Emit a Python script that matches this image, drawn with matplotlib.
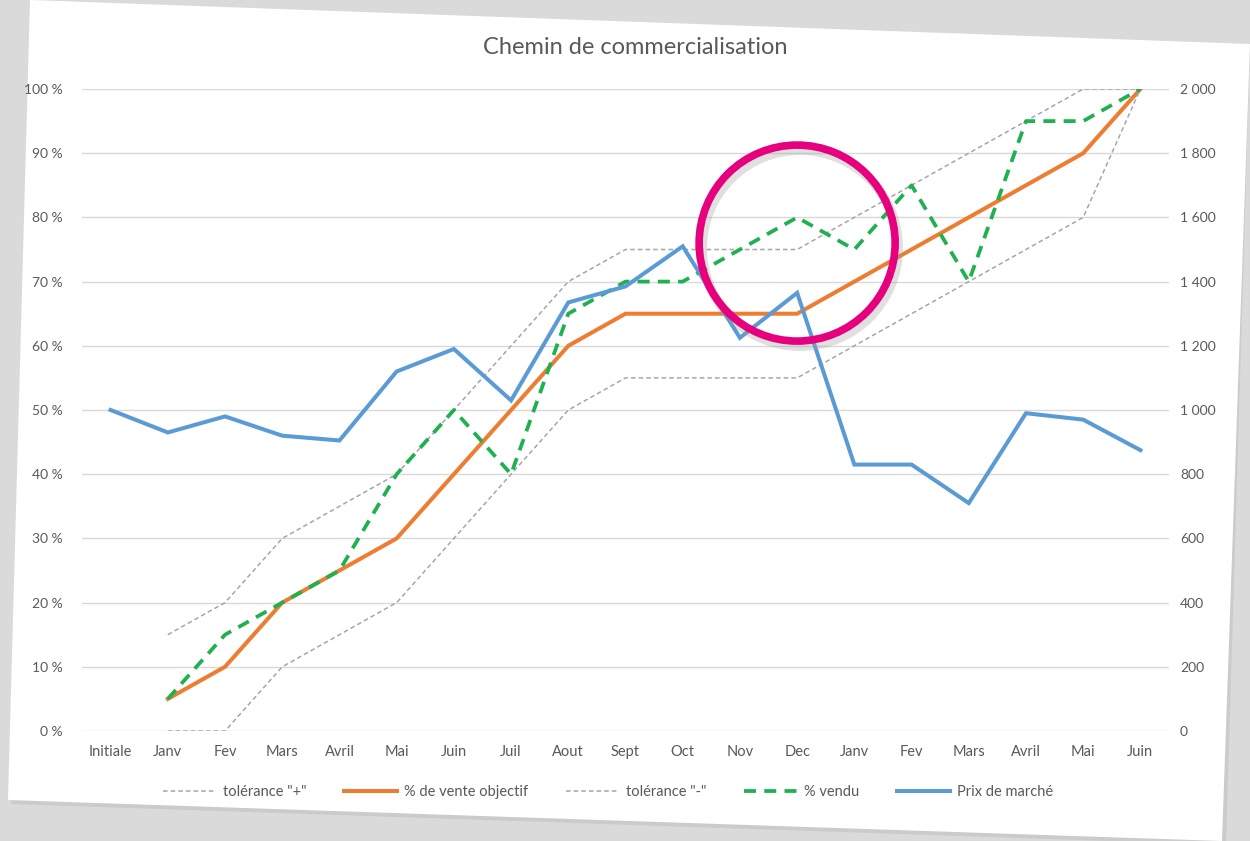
import numpy as np
import matplotlib
matplotlib.use("Agg")
import matplotlib.pyplot as plt
from matplotlib.patches import Polygon, Circle
from matplotlib.transforms import IdentityTransform
from matplotlib.ticker import FuncFormatter, MultipleLocator

plt.rcParams['font.family'] = ['Lato', 'DejaVu Sans']

# categories (x axis)
mois = ["Initiale", "Janv", "Fev", "Mars", "Avril", "Mai", "Juin", "Juil", "Aout",
        "Sept", "Oct", "Nov", "Dec", "Janv", "Fev", "Mars", "Avril", "Mai", "Juin"]

# left axis, in %
tol_plus = [np.nan, 15, 20, 30, 35, 40, 50, 60, 70, 75, 75, 75, 75, 80, 85, 90, 95, 100, 100]
objectif = [np.nan, 5, 10, 20, 25, 30, 40, 50, 60, 65, 65, 65, 65, 70, 75, 80, 85, 90, 100]
tol_moins = [np.nan, 0, 0, 10, 15, 20, 30, 40, 50, 55, 55, 55, 55, 60, 65, 70, 75, 80, 100]
vendu = [np.nan, 5, 15, 20, 25, 40, 50, 40, 65, 70, 70, 75, 80, 75, 85, 70, 95, 95, 100]

# right axis, market price
prix = [1000, 930, 980, 920, 905, 1120, 1190, 1030, 1335, 1385, 1510, 1225, 1365,
        830, 830, 710, 990, 970, 875]

W, H = 1250, 841
GRIS_TXT = '#595959'
GRILLE = '#d9d9d9'


def px(x, y):
    # pixel (from top-left) -> figure fraction
    return (x / W, 1 - y / H)


fig = plt.figure(figsize=(12.5, 8.41), dpi=100)
fig.patch.set_facecolor('#dadada')

# white sheet, slightly tilted like the photo
ombre = Polygon([px(33, 3), px(1250, 48), px(1226, 845), px(11, 804)],
                closed=True, transform=fig.transFigure, fc='#cbcbcb', ec='none', zorder=-3)
page = Polygon([px(30, 0), px(1250, 44), px(1222, 841), px(8, 800)],
               closed=True, transform=fig.transFigure, fc='white', ec='none', zorder=-2)
fig.add_artist(ombre)
fig.add_artist(page)

ax = fig.add_axes([82 / W, 110 / H, 1087 / W, 642 / H])
ax.set_facecolor('none')
x = np.arange(len(mois))

l1, = ax.plot(x, tol_plus, color='#a6a6a6', lw=1.1, ls=(0, (3, 2)))
l2, = ax.plot(x, objectif, color='#ed7d31', lw=2.9, solid_joinstyle='miter')
l3, = ax.plot(x, tol_moins, color='#a6a6a6', lw=1.1, ls=(0, (3, 2)))
l4, = ax.plot(x, vendu, color='#1fb04f', lw=2.7, ls=(0, (3.2, 2.2)))

ax.set_xlim(-0.5, len(mois) - 0.5)
ax.set_ylim(0, 100)
ax.yaxis.set_major_locator(MultipleLocator(10))
ax.yaxis.set_major_formatter(FuncFormatter(lambda v, p: f"{v:.0f} %"))
ax.set_xticks(x)
ax.set_xticklabels(mois)
ax.grid(axis='y', color=GRILLE, lw=1)
ax.set_axisbelow(True)
for s in ax.spines.values():
    s.set_visible(False)
ax.tick_params(axis='both', length=0, colors=GRIS_TXT, labelsize=10)
ax.tick_params(axis='x', pad=10, labelsize=10.5)
ax.tick_params(axis='y', pad=14)

ax2 = ax.twinx()
l5, = ax2.plot(x, prix, color='#5b9bd5', lw=2.9, solid_joinstyle='miter')
ax2.set_ylim(0, 2000)
ax2.yaxis.set_major_locator(MultipleLocator(200))
ax2.yaxis.set_major_formatter(
    FuncFormatter(lambda v, p: f"{v:,.0f}".replace(",", " ")))
for s in ax2.spines.values():
    s.set_visible(False)
ax2.tick_params(axis='y', length=0, colors=GRIS_TXT, labelsize=10, pad=8)

fig.text(*px(635, 48), "Chemin de commercialisation", ha='center', va='center',
         fontsize=17, color=GRIS_TXT)

fig.legend([l1, l2, l3, l4, l5],
           ['tolérance "+"', '% de vente objectif', 'tolérance "-"', '% vendu', 'Prix de marché'],
           loc='center', bbox_to_anchor=px(608, 792), ncol=5, frameon=False,
           fontsize=10.5, labelcolor=GRIS_TXT, handlelength=3.6, columnspacing=2.6,
           handletextpad=0.5)

# pink highlight circle around Dec
c = ax.transData.transform((12, 76))
fig.add_artist(Circle((c[0] + 3, c[1] - 5), 98, transform=IdentityTransform(),
                      fill=False, ec='#9a9a9a', lw=7, alpha=0.3, zorder=9))
fig.add_artist(Circle(c, 98, transform=IdentityTransform(),
                      fill=False, ec='#e6007e', lw=5.5, zorder=10))

fig.savefig("out.png", dpi=100, facecolor=fig.get_facecolor())
